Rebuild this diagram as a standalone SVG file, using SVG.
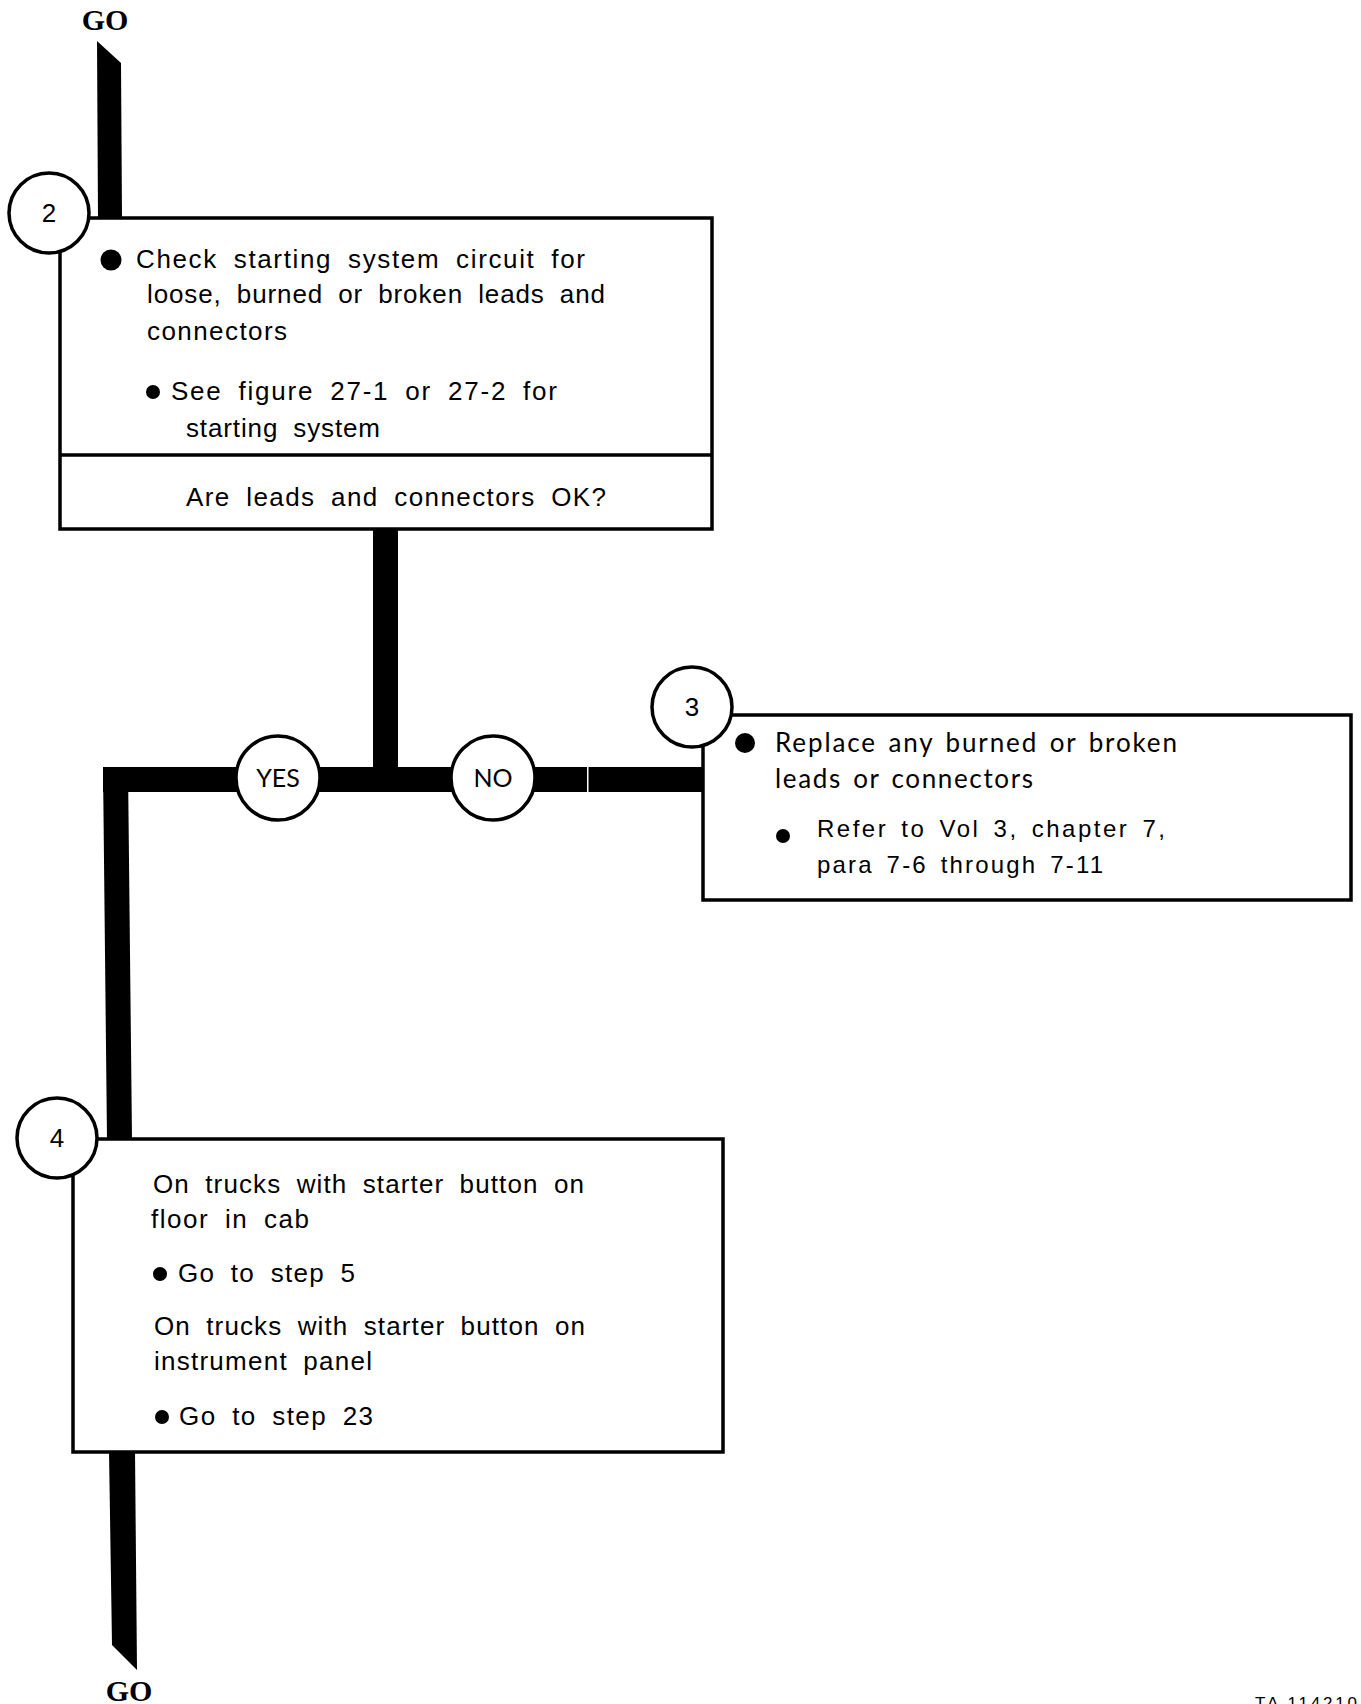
<svg xmlns="http://www.w3.org/2000/svg" width="1361" height="1704" viewBox="0 0 1361 1704">
<style>
.bg{fill:#fff}
.bar{fill:#000}
.box{fill:#fff;stroke:#000;stroke-width:3.5}
.circ{fill:#fff;stroke:#000;stroke-width:3.5}
.go{font-family:"Liberation Serif",serif;font-weight:bold;font-size:30px;fill:#000;text-anchor:middle}
.t{font-family:"Liberation Sans",Arial,sans-serif;font-size:26px;fill:#000;word-spacing:7px}
.f{font-family:Lato,"Liberation Sans",sans-serif;font-size:26px;fill:#000;word-spacing:3px}
.r{font-family:"Liberation Sans",Arial,sans-serif;font-size:24px;fill:#000;word-spacing:4px}
.num{font-family:"Liberation Sans",Arial,sans-serif;font-size:26px;fill:#000;text-anchor:middle}
.yn{font-family:Lato,"Liberation Sans",sans-serif;font-size:25px;fill:#000;text-anchor:middle}
.dot{fill:#000}
.ta{font-family:"Liberation Sans",Arial,sans-serif;font-size:17px;fill:#000}
</style>
<rect class="bg" x="0" y="0" width="1361" height="1704"/>
<g id="connectors">
  <polygon class="bar" points="97,41 121,63 122,219 98,219"/>
  <rect class="bar" x="373" y="528" width="25" height="264"/>
  <rect class="bar" x="103" y="767" width="600" height="25"/>
  <rect fill="#fff" x="587" y="765" width="1.5" height="28"/>
  <polygon class="bar" points="103,767 128,767 132,1140 107,1140"/>
  <polygon class="bar" points="109,1451 135,1451 137,1670 112,1645"/>
</g>
<g id="go-top">
  <text class="go" x="105" y="30">GO</text>
</g>
<g id="step2">
  <rect class="box" x="60" y="218" width="652" height="311"/>
  <line x1="60" y1="455" x2="712" y2="455" stroke="#000" stroke-width="3.5"/>
  <circle class="circ" cx="49" cy="213" r="40"/>
  <text class="num" x="49" y="222">2</text>
  <circle class="dot" cx="111" cy="260" r="10.5"/>
  <text class="t" x="136" y="268" textLength="449">Check starting system circuit for</text>
  <text class="t" x="147" y="303" textLength="458">loose, burned or broken leads and</text>
  <text class="t" x="147" y="340" textLength="140">connectors</text>
  <circle class="dot" cx="153" cy="392" r="7"/>
  <text class="t" x="171" y="400" textLength="386">See figure 27-1 or 27-2 for</text>
  <text class="t" x="186" y="437" textLength="194">starting system</text>
  <text class="t" x="186" y="506" textLength="420">Are leads and connectors OK?</text>
</g>
<g id="yes">
  <circle class="circ" cx="278" cy="778" r="42"/>
  <text class="yn" x="278" y="787">YES</text>
</g>
<g id="no">
  <circle class="circ" cx="493" cy="778" r="42"/>
  <text class="yn" x="493" y="787">NO</text>
</g>
<g id="step3">
  <rect class="box" x="703" y="715" width="648" height="185"/>
  <circle class="circ" cx="692" cy="707" r="40"/>
  <text class="num" x="692" y="716">3</text>
  <circle class="dot" cx="745" cy="743" r="10"/>
  <text class="f" x="775" y="752" textLength="402">Replace any burned or broken</text>
  <text class="f" x="775" y="788" textLength="258">leads or connectors</text>
  <circle class="dot" cx="783" cy="836" r="7"/>
  <text class="r" x="817" y="837" textLength="348">Refer to Vol 3, chapter 7,</text>
  <text class="r" x="817" y="873" textLength="286">para 7-6 through 7-11</text>
</g>
<g id="step4">
  <rect class="box" x="73" y="1139" width="650" height="313" stroke-width="4.5"/>
  <circle class="circ" cx="57" cy="1138" r="40"/>
  <text class="num" x="57" y="1147">4</text>
  <text class="t" x="153" y="1193" textLength="431">On trucks with starter button on</text>
  <text class="t" x="151" y="1228" textLength="158">floor in cab</text>
  <circle class="dot" cx="160" cy="1274" r="7"/>
  <text class="t" x="178" y="1282" textLength="177">Go to step 5</text>
  <text class="t" x="154" y="1335" textLength="431">On trucks with starter button on</text>
  <text class="t" x="154" y="1370" textLength="218">instrument panel</text>
  <circle class="dot" cx="162" cy="1417" r="7"/>
  <text class="t" x="179" y="1425" textLength="194">Go to step 23</text>
</g>
<g id="go-bottom">
  <text class="go" x="129" y="1701">GO</text>
</g>
<text class="ta" x="1255" y="1709" textLength="102">TA  114210</text>
</svg>
